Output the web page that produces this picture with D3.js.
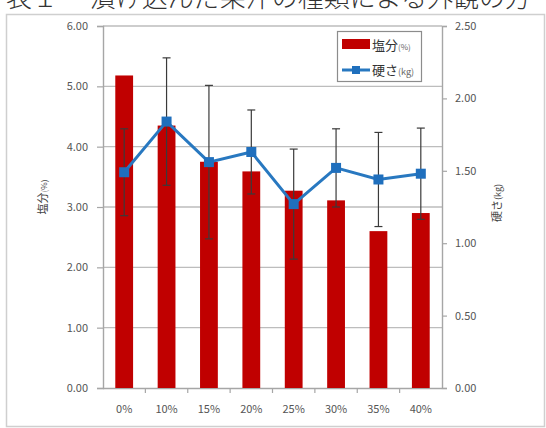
<!DOCTYPE html>
<html><head><meta charset="utf-8">
<script src="https://cdn.jsdelivr.net/npm/d3@7"></script>
<style>
html,body{margin:0;padding:0;background:#fff;}
svg{display:block;}
text{font-family:"Noto Sans CJK JP","Noto Sans",sans-serif;}
</style></head>
<body>
<svg id="c" width="546" height="428"></svg>
<script>
const categories = ["0%","10%","15%","20%","25%","30%","35%","40%"];
const saltValues = [5.18, 4.35, 3.75, 3.59, 3.27, 3.11, 2.60, 2.90];
const hardValues = [1.49, 1.84, 1.56, 1.63, 1.27, 1.52, 1.44, 1.48];
const hardErrors = [0.30, 0.44, 0.53, 0.29, 0.38, 0.27, 0.325, 0.315];
const leftTicks = [0,1,2,3,4,5,6];
const rightTicks = [0,0.5,1,1.5,2,2.5];
const seriesNames = ["塩分", "硬さ"];

const svg = d3.select("#c");

// caption (cut off at the top, as in the source)
svg.append("text").attr("x",6).attr("y",7).attr("font-size",26).attr("font-weight",300).attr("fill","#333")
  .text("表１　 漬け込んだ果汁の種類による外観の方");

// outer frame
svg.append("rect").attr("x",6.5).attr("y",14.5).attr("width",538).attr("height",412)
  .attr("fill","#fff").attr("stroke","#cfcfcf").attr("stroke-width",1.5);

const L=103, R=442, T=26, B=388;
const x = d3.scaleBand().domain(categories).range([L,R]).paddingInner(0.58).paddingOuter(0.29);
const xc = d3.scaleBand().domain(categories).range([L,R]);
const yL = d3.scaleLinear().domain([0,6]).range([B,T]);
const yR = d3.scaleLinear().domain([0,2.5]).range([B,T]);

// gridlines
svg.append("g").selectAll("line").data(leftTicks.slice(1)).join("line")
  .attr("x1",L).attr("x2",R).attr("y1",d=>yL(d)).attr("y2",d=>yL(d))
  .attr("stroke","#bdbdbd").attr("stroke-width",1.3);

// axes
const fmt = d3.format(".2f");
const gL = svg.append("g").attr("transform",`translate(${L},0)`)
  .call(d3.axisLeft(yL).tickValues(leftTicks).tickFormat(fmt).tickSize(6).tickPadding(9));
const gR = svg.append("g").attr("transform",`translate(${R},0)`)
  .call(d3.axisRight(yR).tickValues(rightTicks).tickFormat(fmt).tickSize(5).tickPadding(8));
const gB = svg.append("g").attr("transform",`translate(0,${B})`)
  .call(d3.axisBottom(xc).tickSize(0).tickPadding(17));
// category separator ticks
svg.append("g").selectAll("line").data(categories.slice(1)).join("line")
  .attr("x1",d=>xc(d)).attr("x2",d=>xc(d)).attr("y1",B).attr("y2",B+5)
  .attr("stroke","#a6a6a6").attr("stroke-width",1.2);
[gL,gR,gB].forEach(g=>{
  g.selectAll(".domain").attr("stroke","#a6a6a6").attr("stroke-width",1.4);
  g.selectAll(".tick line").attr("stroke","#a6a6a6").attr("stroke-width",1.2);
  g.selectAll("text").attr("fill","#555").attr("font-size",11)
   .attr("font-family","'Liberation Sans',Arial,sans-serif");
});
gB.select(".domain").attr("d",`M${L},0.5H${R}`);

// bars
svg.append("g").selectAll("rect").data(saltValues).join("rect")
  .attr("x",(d,i)=>x(categories[i])).attr("width",x.bandwidth())
  .attr("y",d=>yL(d)).attr("height",d=>B-yL(d)).attr("fill","#c00000");

// error bars
const eb = svg.append("g").attr("stroke","#3a3a3a").attr("stroke-width",1.2);
hardValues.forEach((v,i)=>{
  const cx = xc(categories[i])+xc.bandwidth()/2;
  const y1 = yR(v+hardErrors[i]), y2 = yR(v-hardErrors[i]);
  eb.append("line").attr("x1",cx).attr("x2",cx).attr("y1",y1).attr("y2",y2);
  eb.append("line").attr("x1",cx-4).attr("x2",cx+4).attr("y1",y1).attr("y2",y1);
  eb.append("line").attr("x1",cx-4).attr("x2",cx+4).attr("y1",y2).attr("y2",y2);
});

// line
const line = d3.line().x((d,i)=>xc(categories[i])+xc.bandwidth()/2).y(d=>yR(d));
svg.append("path").datum(hardValues).attr("d",line).attr("fill","none")
  .attr("stroke","#2878c0").attr("stroke-width",3);
svg.append("g").selectAll("rect").data(hardValues).join("rect")
  .attr("x",(d,i)=>xc(categories[i])+xc.bandwidth()/2-5).attr("y",d=>yR(d)-5)
  .attr("width",10).attr("height",10).attr("fill","#1f6fbd");

// axis titles
function axisTitle(cx, cy){
  return svg.append("text").attr("transform",`translate(${cx},${cy}) rotate(-90)`)
    .attr("text-anchor","middle").attr("fill","#444").attr("font-size",11);
}
const tl = axisTitle(47,197);
tl.append("tspan").text("塩分");
tl.append("tspan").attr("font-size",8).text("(%)");
const tr = axisTitle(501,203);
tr.append("tspan").text("硬さ");
tr.append("tspan").attr("font-size",9).text("(kg)");

// legend
const lg = svg.append("g");
lg.append("rect").attr("x",337.5).attr("y",31.5).attr("width",84).attr("height",50)
  .attr("fill","#fff").attr("stroke","#8c8c8c").attr("stroke-width",1.2);
lg.append("rect").attr("x",342).attr("y",39).attr("width",28).attr("height",10).attr("fill","#c00000");
lg.append("line").attr("x1",342).attr("x2",370).attr("y1",70).attr("y2",70)
  .attr("stroke","#2878c0").attr("stroke-width",3);
lg.append("rect").attr("x",352).attr("y",66).attr("width",8).attr("height",8).attr("fill","#1f6fbd");
const l1 = lg.append("text").attr("x",372).attr("y",50).attr("font-size",13).attr("fill","#333");
l1.append("tspan").text(seriesNames[0]);
l1.append("tspan").attr("font-size",8).attr("fill","#666").text("(%)");
const l2 = lg.append("text").attr("x",372).attr("y",75).attr("font-size",13).attr("fill","#333");
l2.append("tspan").text(seriesNames[1]);
l2.append("tspan").attr("font-size",9).attr("fill","#666").text("(kg)");
</script>
</body></html>
